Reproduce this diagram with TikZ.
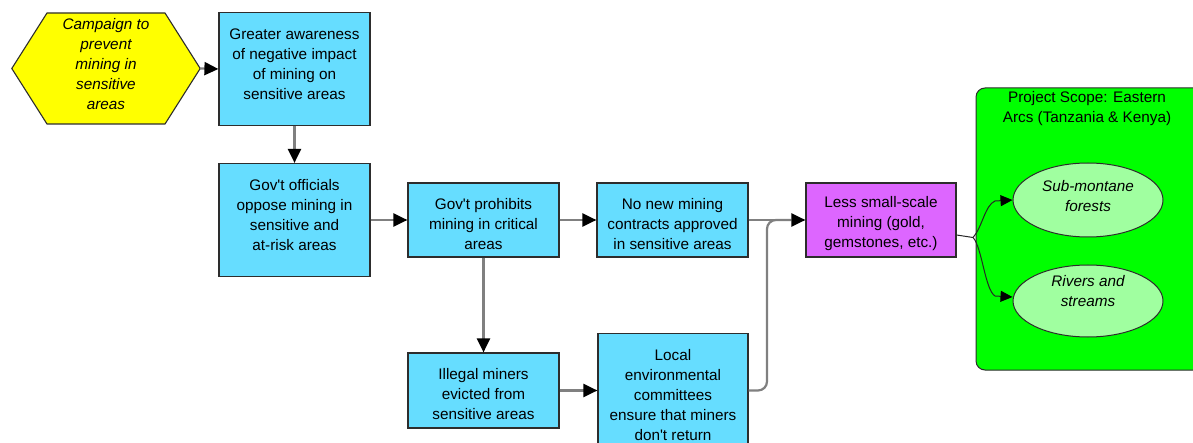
\documentclass[tikz,border=0pt]{standalone}
\usepackage{fontspec}
\setmainfont{Liberation Sans}[Ligatures=TeXOff]
\usetikzlibrary{arrows.meta,shapes.geometric}
\definecolor{boxcyan}{RGB}{102,221,255}
\definecolor{boxmag}{RGB}{221,102,255}
\definecolor{hexyel}{RGB}{255,255,0}
\definecolor{scopegreen}{RGB}{0,255,0}
\definecolor{ellgreen}{RGB}{160,255,160}
\definecolor{linegray}{RGB}{128,128,128}
\definecolor{edgedark}{RGB}{45,45,45}
\tikzset{
  txt/.style={font=\fontsize{15.3}{20}\selectfont, align=center, inner sep=0pt},
  itxt/.style={txt, font=\fontsize{15.3}{20}\selectfont\itshape},
  cbox/.style={draw=edgedark, line width=1.2pt, fill=boxcyan, inner sep=0pt},
  mbox/.style={draw=edgedark, line width=1.2pt, fill=boxmag, inner sep=0pt},
  ell/.style={ellipse, draw=edgedark, line width=1pt, fill=ellgreen, inner sep=0pt},
  conn/.style={draw=linegray, line width=2.2pt, -{Triangle[length=14pt,width=13pt,color=black]}},
  connplain/.style={draw=linegray, line width=2.2pt},
  thin/.style={draw=black!85, line width=1pt},
  thinarr/.style={draw=black!85, line width=1pt, -{Triangle[length=12pt,width=11pt,color=black]}},
}
\begin{document}
\begin{tikzpicture}[x=1pt,y=-1pt]
\useasboundingbox (0,0) rectangle (1193,443);
\fill[white] (0,0) rectangle (1193,443);

% scope container
\node[draw=edgedark, line width=1pt, fill=scopegreen, rounded corners=9pt,
      minimum width=240pt, minimum height=282pt, inner sep=0pt] (scope) at (1096,229) {};
\node[txt] (scopetitle) at (1087,109) {Project Scope: Eastern\\Arcs (Tanzania \& Kenya)};

% hexagon
\node[minimum width=188pt, minimum height=111pt, inner sep=0pt] (camp) at (106,68.5) {};
\fill[hexyel, draw=edgedark, line width=1.1pt]
  (camp.west) -- (47,13) -- (165,13) -- (camp.east) -- (165,124) -- (47,124) -- cycle;
\node[itxt] (camptext) at (106,64)
  {Campaign to\\prevent\\mining in\\sensitive\\areas};

% boxes
\node[cbox, minimum width=151pt, minimum height=113pt] (b1) at (294.5,69) {};
\node[txt] (b1t) at (294.5,64) {Greater awareness\\of negative impact\\of mining on\\sensitive areas};
\node[cbox, minimum width=151pt, minimum height=113pt] (b2) at (294.5,220) {};
\node[txt] (b2t) at (294.5,215) {Gov't officials\\oppose mining in\\sensitive and\\at-risk areas};
\node[cbox, minimum width=151pt, minimum height=74pt] (b3) at (483.5,220) {};
\node[txt] (b3t) at (483.5,224) {Gov't prohibits\\mining in critical\\areas};
\node[cbox, minimum width=151pt, minimum height=74pt] (b4) at (672.5,220) {};
\node[txt] (b4t) at (672.5,224) {No new mining\\contracts approved\\in sensitive areas};
\node[mbox, minimum width=150pt, minimum height=74pt] (b5) at (881,220) {};
\node[txt] (b5t) at (881,224) {Less small-scale\\mining (gold,\\gemstones, etc.)};
\node[cbox, minimum width=151pt, minimum height=75pt] (b6) at (483.5,390.5) {};
\node[txt] (b6t) at (483.5,394) {Illegal miners\\evicted from\\sensitive areas};
\node[cbox, minimum width=150pt, minimum height=114pt] (b7) at (673,390.5) {};
\node[txt] (b7t) at (673,395) {Local\\environmental\\committees\\ensure that miners\\don't return};

% ellipses
\node[ell, minimum width=150pt, minimum height=74pt] (e1) at (1088,200) {};
\node[itxt] (e1t) at (1088,196) {Sub-montane\\forests};
\node[ell, minimum width=150pt, minimum height=72pt] (e2) at (1088,301) {};
\node[itxt] (e2t) at (1088,291) {Rivers and\\streams};

% connectors
\draw[conn] (camp.east) -- (b1.west);
\draw[conn] (b1.south) -- (b2.north);
\draw[conn] (b2.east) -- (b3.west);
\draw[conn] (b3.east) -- (b4.west);
\draw[conn] (b3.south) -- (b6.north);
\draw[conn] (b6.east) -- (b7.west);
\draw[conn] (b4.east) -- (b5.west);
\coordinate (turnx) at (767,0);
\draw[connplain, rounded corners=9pt] (b7.east) -- (b7.east -| turnx) -- (turnx |- b5.west) -- ([xshift=-14pt]b5.west);

\coordinate (j) at (973,237.5);
\draw[thin] ([yshift=-15pt]b5.east) -- (j);
\draw[thinarr] (j) .. controls (982,228) and (985,205) .. (995,201) -- (e1.west);
\draw[thinarr] (j) .. controls (982,247) and (985,290) .. (995,296) -- (e2.west |- 0,297);
\end{tikzpicture}
\end{document}
